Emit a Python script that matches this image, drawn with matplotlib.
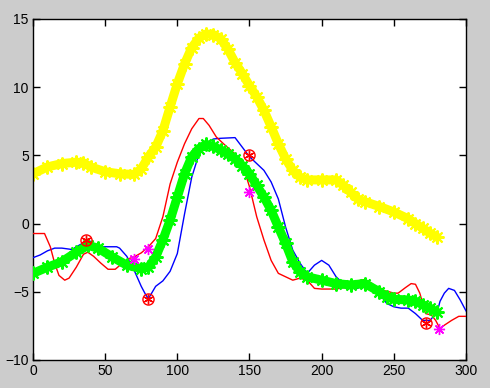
import matplotlib
matplotlib.use("Agg")
import matplotlib.pyplot as plt

# Blue thin line
blue_x = [0, 5, 10, 15, 20, 27, 35, 40, 45, 50, 55, 58, 60, 65, 70, 75, 78, 80, 85, 90, 95,
          100, 105, 110, 115, 120, 125, 130, 140, 145, 150, 155, 160, 165, 170, 175, 180,
          185, 190, 195, 200, 205, 210, 215, 220, 225, 230, 235, 240, 245, 250, 255, 260,
          265, 270, 275, 280, 282, 285, 288, 292, 296, 300]
blue_y = [-2.5, -2.3, -2.0, -1.8, -1.8, -1.9, -1.4, -1.3, -1.7, -1.7, -1.7, -1.7, -1.8,
          -2.4, -3.4, -4.6, -5.2, -5.5, -4.6, -4.2, -3.5, -2.2, 0.7, 3.4, 5.1, 5.85, 6.2,
          6.25, 6.3, 5.6, 4.9, 4.4, 3.9, 3.05, 1.8, -0.25, -1.95, -2.9, -3.65, -3.05, -2.7,
          -3.05, -3.9, -4.4, -4.75, -4.75, -4.3, -4.5, -5.1, -5.85, -6.1, -6.2, -6.2, -6.6,
          -7.1, -7.1, -6.5, -5.7, -5.1, -4.75, -4.9, -5.6, -6.4]

# Red thin line
red_x = [0, 8, 12, 15, 18, 22, 25, 30, 35, 38, 42, 47, 52, 57, 62, 67, 70, 75, 80, 85, 90,
         95, 100, 105, 110, 115, 118, 122, 127, 132, 140, 145, 150, 155, 160, 165, 170, 175,
         180, 185, 190, 195, 200, 210, 220, 225, 230, 235, 240, 245, 250, 253, 258, 262, 265,
         268, 272, 276, 279, 282, 285, 290, 295, 300]
red_y = [-0.73, -0.73, -1.7, -2.9, -3.8, -4.15, -4.0, -3.2, -2.25, -2.1, -2.4, -2.9, -3.35,
         -3.35, -2.9, -2.55, -2.45, -2.15, -1.7, -1.1, 0.5, 2.9, 4.5, 5.85, 6.95, 7.7, 7.7,
         7.2, 6.35, 5.85, 5.1, 4.4, 2.7, 0.5, -1.2, -2.7, -3.65, -3.9, -4.15, -4.0, -4.15,
         -4.75, -4.8, -4.8, -4.6, -4.2, -4.1, -4.4, -4.9, -4.95, -5.1, -5.1, -4.7, -4.4,
         -4.45, -5.1, -6.6, -6.7, -7.1, -7.7, -7.45, -7.1, -6.8, -6.8]

# Green thick star series
green_x = [0, 10, 20, 30, 38, 45, 55, 65, 75, 80, 85, 90, 95, 100, 105, 110, 115, 120, 125,
           130, 135, 140, 145, 150, 155, 160, 165, 170, 175, 180, 185, 190, 200, 210, 220,
           230, 240, 245, 250, 260, 265, 270, 275, 280]
green_y = [-3.65, -3.2, -2.8, -2.1, -1.6, -1.8, -2.45, -3.05, -3.3, -3.2, -2.45, -1.2, 0.25,
           1.95, 3.65, 4.9, 5.5, 5.8, 5.65, 5.4, 5.1, 4.75, 4.25, 3.65, 2.8, 1.95, 0.97,
           -0.25, -1.45, -2.8, -3.55, -3.9, -4.15, -4.4, -4.5, -4.4, -5.0, -5.35, -5.55,
           -5.6, -5.7, -5.95, -6.2, -6.5]

# Yellow thick star series
yellow_x = [0, 10, 20, 30, 35, 40, 50, 60, 70, 75, 80, 85, 90, 95, 100, 105, 110, 115, 120,
            125, 130, 135, 140, 145, 150, 155, 160, 165, 170, 175, 180, 185, 190, 200, 210,
            215, 220, 225, 230, 240, 250, 260, 265, 270, 275, 280]
yellow_y = [3.65, 4.15, 4.4, 4.5, 4.45, 4.15, 3.8, 3.65, 3.6, 4.0, 4.9, 5.6, 6.8, 8.55,
            10.25, 11.7, 12.9, 13.6, 13.9, 13.85, 13.55, 12.8, 11.8, 11.0, 10.1, 9.3, 8.3,
            7.1, 5.85, 4.75, 3.9, 3.4, 3.2, 3.2, 3.2, 2.8, 2.3, 1.8, 1.6, 1.25, 0.85, 0.35,
            0.0, -0.35, -0.7, -1.0]

# Red circled-asterisk markers
circ_x = [37, 80, 150, 272]
circ_y = [-1.2, -5.55, 5.0, -7.3]

# Magenta star markers
mag_x = [70, 80, 150, 281]
mag_y = [-2.6, -1.9, 2.3, -7.7]

xticks = [0, 50, 100, 150, 200, 250, 300]
yticks = [-10, -5, 0, 5, 10, 15]

plt.rcParams['font.family'] = ['Liberation Sans', 'DejaVu Sans']

fig = plt.figure(figsize=(4.9, 3.88), dpi=100, facecolor='#cccccc')
ax = fig.add_axes([0.0673, 0.0722, 0.8837, 0.879])
ax.set_facecolor('white')

ax.plot(yellow_x, yellow_y, color='#ffff00', lw=6.5, solid_capstyle='round', zorder=2)
ax.plot(yellow_x, yellow_y, ls='none', marker=(8, 2, 0), color='#ffff00', ms=10, mew=1.5, zorder=2)
ax.plot(blue_x, blue_y, color='#0000ff', lw=1, zorder=3)
ax.plot(red_x, red_y, color='#ff0000', lw=1, zorder=3)
ax.plot(green_x, green_y, color='#00ff00', lw=6.5, solid_capstyle='round', zorder=4)
ax.plot(green_x, green_y, ls='none', marker=(8, 2, 0), color='#00ff00', ms=10, mew=1.5, zorder=4)
ax.plot(circ_x, circ_y, ls='none', marker='o', mfc='none', mec='#ff0000', ms=8, mew=1, zorder=5)
ax.plot(circ_x, circ_y, ls='none', marker=(6, 2, 0), color='#ff0000', ms=7, mew=1, zorder=5)
ax.plot(mag_x, mag_y, ls='none', marker=(8, 2, 0), color='#ff00ff', ms=8, mew=1, zorder=5)

ax.set_xlim(0, 300)
ax.set_ylim(-10, 15)
ax.set_xticks(xticks)
ax.set_yticks(yticks)
ax.tick_params(direction='in', top=True, right=True, length=5, width=1,
               labelsize=10, colors='black', pad=3)
for s in ax.spines.values():
    s.set_linewidth(1)
    s.set_color('black')

fig.savefig('out.png', dpi=100, facecolor=fig.get_facecolor())
